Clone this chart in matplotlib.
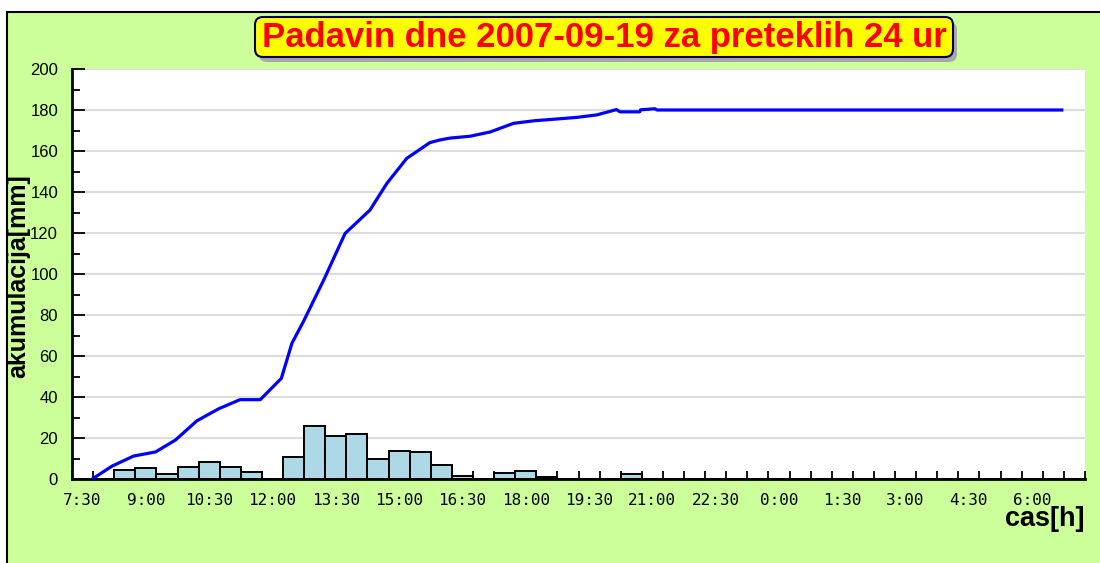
import numpy as np
import matplotlib
matplotlib.use('Agg')
import matplotlib.pyplot as plt
from matplotlib.patches import Rectangle, FancyBboxPatch

#  Rain per 30 min slot, starting at 7:30 (48 slots = 24 h)
rain_mm = [0, 0, 4.4, 5.2, 2.3, 6.0, 8.5, 6.0, 3.6, 0,
           10.9, 25.7, 21.0, 21.8, 9.9, 13.8, 13.0, 7.0, 1.6, 0,
           3.0, 3.7, 1.1, 0, 0, 0, 2.6, 0, 0, 0,
           0, 0, 0, 0, 0, 0, 0, 0, 0, 0,
           0, 0, 0, 0, 0, 0, 0, 0]

#  Accumulated rain, hours after 7:30
line_h = [0.48, 0.95, 1.46, 1.98, 2.45, 2.96, 3.48, 3.98, 4.46, 4.96,
          5.21, 5.48, 5.96, 6.47, 7.06, 7.46, 7.93, 8.48, 8.72, 8.96,
          9.43, 9.91, 10.46, 10.97, 11.48, 11.96, 12.43, 12.90, 12.98,
          13.45, 13.47, 13.81, 13.86, 23.45]
line_mm = [0, 6.3, 11.2, 13.2, 19.0, 28.4, 34.3, 38.7, 38.7, 49.1,
           66.2, 76.7, 96.9, 119.8, 131.2, 144.2, 156.4, 164.1, 165.4, 166.3,
           167.2, 169.3, 173.5, 174.8, 175.6, 176.4, 177.6, 180.2, 179.1,
           179.1, 180.1, 180.6, 180.0, 180.0]

hour_labels = ['7:30', '9:00', '10:30', '12:00', '13:30', '15:00', '16:30',
               '18:00', '19:30', '21:00', '22:30', '0:00', '1:30', '3:00',
               '4:30', '6:00']

plt.rcParams['font.family'] = ['Liberation Sans', 'DejaVu Sans']

W, H = 1100, 563
fig = plt.figure(figsize=(W / 100, H / 100), dpi=100, facecolor='white')

#  Green frame (cropped at right and bottom)
fig.patches.append(Rectangle((7 / W, -0.2), 1.2, 1.2 - 12 / H,
                             transform=fig.transFigure, fc='#ccff99',
                             ec='black', lw=1.5, zorder=-5))

ax = fig.add_axes([72 / W, 1 - 479 / H, (1085 - 72) / W, (479 - 69) / H])
ax.set_zorder(2)
ax.set_facecolor('white')

x_bar = 0.25 + 0.5 * np.arange(len(rain_mm))
ax.bar(x_bar, rain_mm, width=0.5, color='#add8e6', edgecolor='black',
       linewidth=1.4, zorder=2)
ax.plot(line_h, line_mm, color='#0000ff', lw=2.3, zorder=3)

ax.set_xlim(0, 24)
ax.set_ylim(0, 200)
ax.set_yticks(range(0, 201, 20))
ax.set_yticks(range(10, 200, 20), minor=True)
ax.yaxis.grid(True, color='#dddddd', lw=1.5, zorder=0)
ax.set_axisbelow(True)

ax.set_xticks(0.25 + 1.5 * np.arange(len(hour_labels)))
ax.set_xticklabels(hour_labels, family='DejaVu Sans Mono', fontsize=11.5)
ax.set_xticks(np.arange(0, 24.01, 0.5), minor=True)
ax.tick_params(axis='x', which='major', length=0, pad=10)
ax.tick_params(axis='x', which='minor', direction='in', length=6, width=1.3)
ax.tick_params(axis='y', which='major', direction='in', length=9, width=1.3,
               pad=10, labelsize=12)
ax.tick_params(axis='y', which='minor', direction='in', length=6, width=1.3)
for s in ['top', 'right']:
    ax.spines[s].set_visible(False)
for s in ['left', 'bottom']:
    ax.spines[s].set_linewidth(2)

fig.text(18 / W, 1 - 276 / H, 'akumulacija[mm]', rotation=90, fontsize=18,
         fontweight='bold', ha='center', va='center')
fig.text(1085 / W, 1 - 519 / H, 'cas[h]', ha='right', va='center',
         fontsize=19.5, fontweight='bold')

#  Title box with shadow
tr = fig.dpi_scale_trans
fig.patches.append(FancyBboxPatch((2.59, (H - 62) / 100), 6.98, 0.40,
                                  boxstyle='round,pad=0,rounding_size=0.08',
                                  fc='#a8a8a8', ec='none', transform=tr))
fig.patches.append(FancyBboxPatch((2.55, (H - 57) / 100), 6.98, 0.40,
                                  boxstyle='round,pad=0,rounding_size=0.08',
                                  fc='#ffff00', ec='#000066', lw=1.5,
                                  transform=tr))
fig.text(604 / W, 1 - 38 / H, 'Padavin dne 2007-09-19 za preteklih 24 ur',
         color='#ff0000', fontsize=25, fontweight='bold', ha='center',
         va='center')

fig.savefig('out.png', dpi=100)
